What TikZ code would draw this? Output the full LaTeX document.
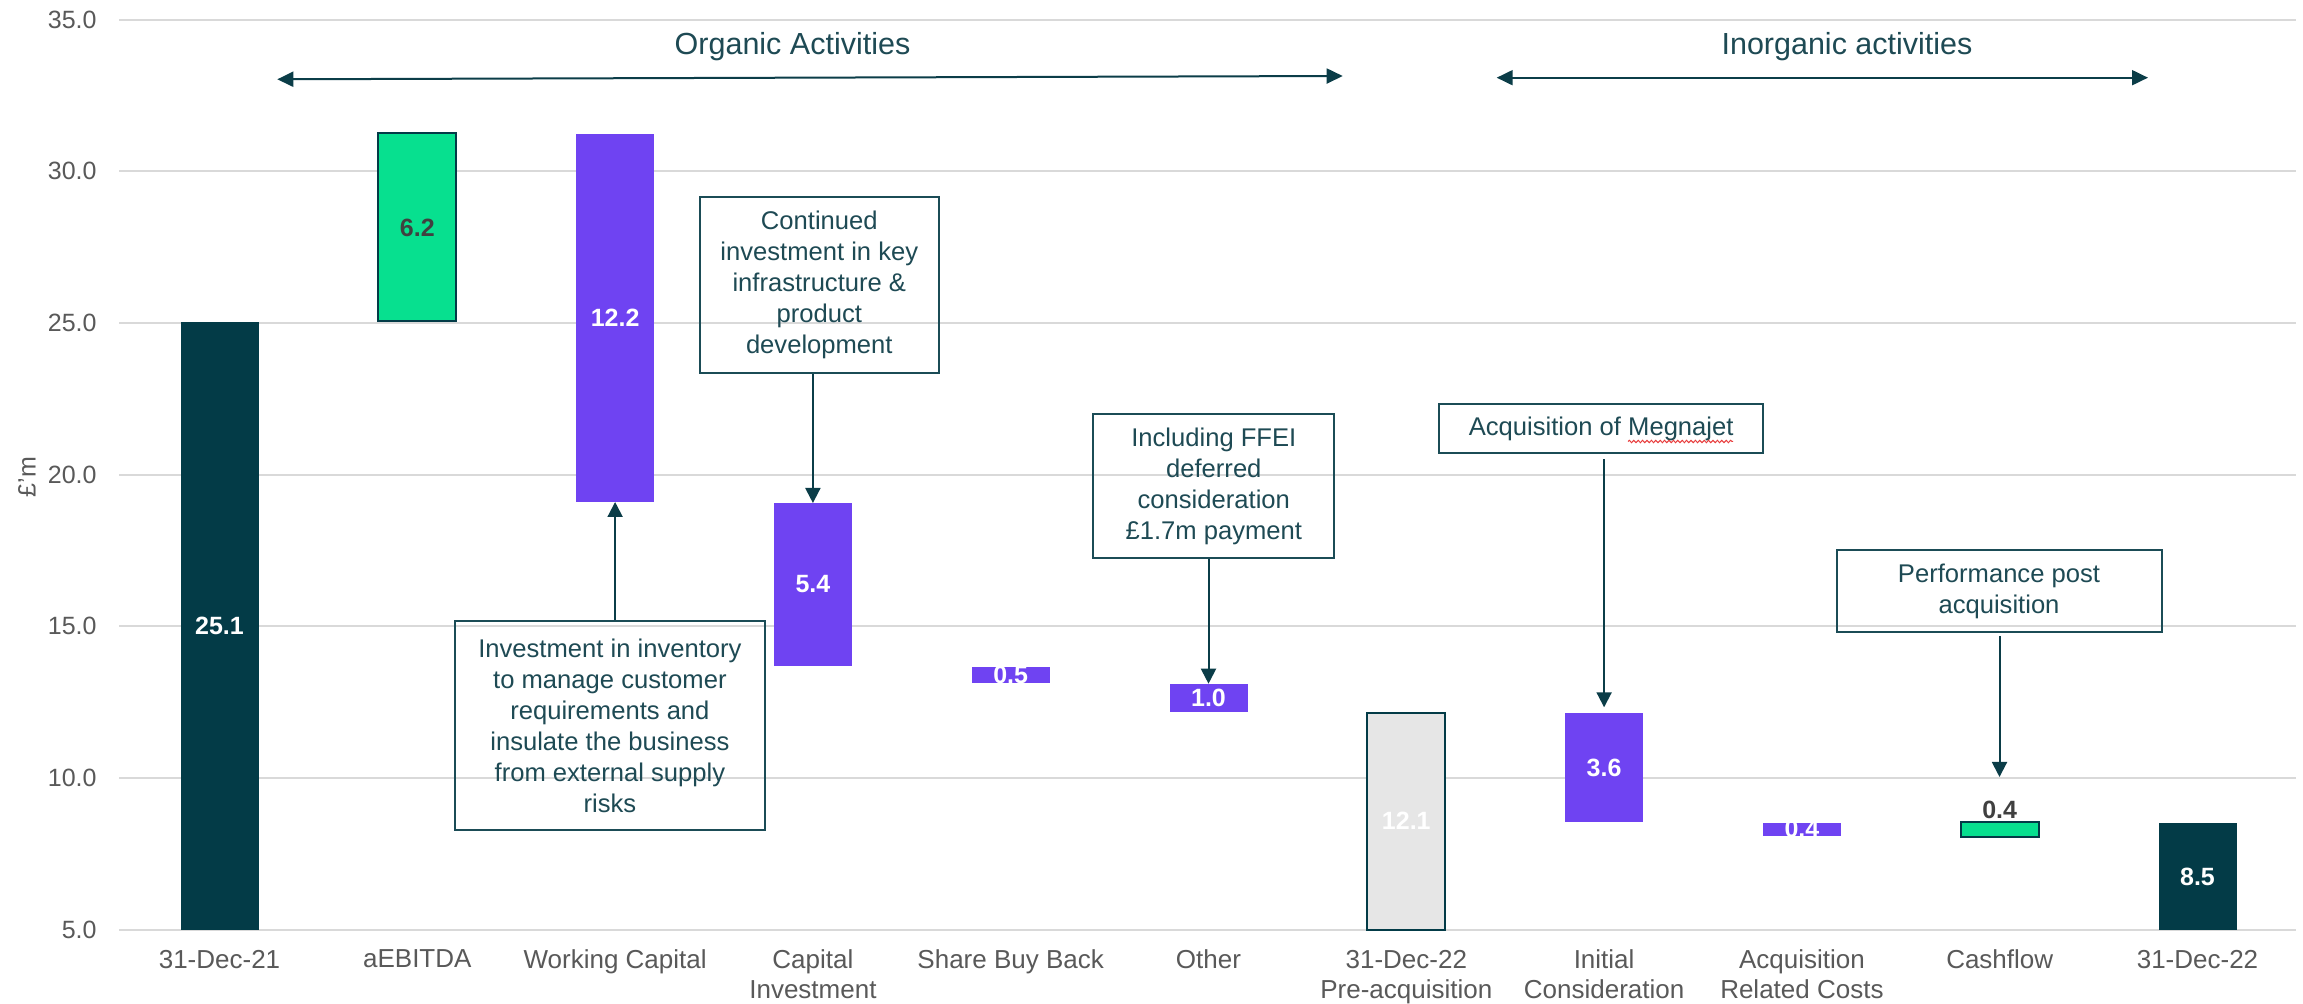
\documentclass[tikz,border=0pt]{standalone}
\usepackage{fontspec}
\setmainfont{Liberation Sans}
\usetikzlibrary{arrows.meta,decorations.pathmorphing}

\definecolor{darkteal}{RGB}{3,59,71}
\definecolor{wfgreen}{RGB}{7,224,143}
\definecolor{wfpurple}{RGB}{111,67,242}
\definecolor{subtotal}{RGB}{230,230,230}
\definecolor{gridgray}{RGB}{217,217,217}
\definecolor{axisgray}{RGB}{89,89,89}
\definecolor{boxteal}{RGB}{27,76,86}
\definecolor{textteal}{RGB}{30,74,84}
\definecolor{arrowteal}{RGB}{11,61,72}
\definecolor{valdark}{RGB}{64,64,64}
\definecolor{spellred}{RGB}{232,60,60}

% waterfall bar: name, centre x, top y, bottom y, style (coordinates in pixels, y downwards)
\newcommand{\wfbar}[5]{%
  \node[barshape,#5,minimum height={(#4-#3)*0.5pt}] (#1) at (#2,{(#3+#4)/2}) {};}

\begin{document}
\begin{tikzpicture}[x=0.5pt,y=-0.5pt,
  gridline/.style={draw=gridgray,line width=1pt},
  ticklbl/.style={anchor=east,inner sep=0pt,text=axisgray,font=\fontsize{12.5}{15}\selectfont},
  catlbl/.style={anchor=north,inner sep=0pt,align=center,text=axisgray,font=\fontsize{13}{15}\selectfont},
  barshape/.style={rectangle,inner sep=0pt,outer sep=0pt,minimum width=39pt},
  outlined/.style={draw=darkteal,line width=1pt},
  vallbl/.style={inner sep=0pt,text=white,font=\bfseries\fontsize{12.5}{15}\selectfont},
  callout/.style={draw=boxteal,line width=1pt,text=textteal,align=center,inner sep=0pt,
                  font=\fontsize{12.8}{15.5}\selectfont},
  callarrow/.style={draw=arrowteal,line width=1pt,-{Triangle[length=7.5pt,width=7.5pt]}},
  spanarrow/.style={draw=arrowteal,line width=1pt,
                    {Triangle[length=8pt,width=7.5pt]}-{Triangle[length=8pt,width=7.5pt]}},
  heading/.style={anchor=base,inner sep=0pt,text=textteal,font=\fontsize{15.25}{18}\selectfont}]

\useasboundingbox[fill=white] (0,0) rectangle (2303,1004);

% value axis: gridlines and tick labels
\foreach \v in {5,10,...,35} {
  \draw[gridline] (119,{929.5-(\v-5)*30.333}) -- (2296,{929.5-(\v-5)*30.333});
  \node[ticklbl] (tick\v) at (97,{929.5-(\v-5)*30.333}) {\v.0};
}
\node[ticklbl,anchor=center,rotate=90] (yunit) at (27,477) {£'m};

% bars
\wfbar{b1}{219.5}{322}{929.5}{fill=darkteal}
\wfbar{b2}{417.3}{133.5}{321.5}{fill=wfgreen,outlined}
\wfbar{b3}{615.1}{134.5}{502}{fill=wfpurple}
\wfbar{b4}{812.9}{503}{665.7}{fill=wfpurple}
\wfbar{b5}{1010.7}{667}{682.7}{fill=wfpurple}
\wfbar{b6}{1208.5}{683.7}{712}{fill=wfpurple}
\wfbar{b7}{1406.3}{712.7}{929.5}{fill=subtotal,outlined}
\wfbar{b8}{1604.1}{713.3}{821.7}{fill=wfpurple}
\wfbar{b9}{1801.9}{822.7}{836}{fill=wfpurple}
\wfbar{b10}{1999.7}{822}{836.7}{fill=wfgreen,outlined}
\wfbar{b11}{2197.5}{823.3}{929.5}{fill=darkteal}

% bar values
\node[vallbl] (v1) at (b1) {25.1};
\node[vallbl,text=valdark] (v2) at (b2) {6.2};
\node[vallbl] (v3) at (b3) {12.2};
\node[vallbl] (v4) at (b4) {5.4};
\node[vallbl] (v5) at (b5) {0.5};
\node[vallbl] (v6) at (b6) {1.0};
\node[vallbl] (v7) at (b7) {12.1};
\node[vallbl] (v8) at (b8) {3.6};
\node[vallbl] (v9) at (b9) {0.4};
\node[vallbl,text=valdark,anchor=south,yshift=1.5pt] (v10) at (b10.north) {0.4};
\node[vallbl] (v11) at (b11) {8.5};

% category labels
\node[catlbl] (c1) at (219.5,949.5) {31-Dec-21};
\node[catlbl] (c2) at (417.3,949.5) {aEBITDA};
\node[catlbl] (c3) at (615.1,949.5) {Working Capital};
\node[catlbl] (c4) at (812.9,949.5) {Capital\\Investment};
\node[catlbl] (c5) at (1010.7,949.5) {Share Buy Back};
\node[catlbl] (c6) at (1208.5,949.5) {Other};
\node[catlbl] (c7) at (1406.3,949.5) {31-Dec-22\\Pre-acquisition};
\node[catlbl] (c8) at (1604.1,949.5) {Initial\\Consideration};
\node[catlbl] (c9) at (1801.9,949.5) {Acquisition\\Related Costs};
\node[catlbl] (c10) at (1999.7,949.5) {Cashflow};
\node[catlbl] (c11) at (2197.5,949.5) {31-Dec-22};

% section headings with span arrows
\node[heading] (org) at (792.5,55) {Organic Activities};
\node[heading] (inorg) at (1847,55) {Inorganic activities};
\coordinate (orgL) at (277.3,79.3);
\coordinate (orgR) at (1342.7,76);
\coordinate (inoL) at (1496.7,77.7);
\coordinate (inoR) at (2148,77.7);
\draw[spanarrow] (orgL) -- (orgR);
\draw[spanarrow] (inoL) -- (inoR);

% callouts
\node[callout,minimum width=155.4pt,minimum height=104.5pt] (inv) at (609.9,725.5)
  {Investment in inventory\\to manage customer\\requirements and\\insulate the business\\from external supply\\risks};
\node[callout,minimum width=119.35pt,minimum height=88pt] (cont) at (819.3,284.7)
  {Continued\\investment in key\\infrastructure \&\\product\\development};
\node[callout,minimum width=120.5pt,minimum height=71.7pt] (ffei) at (1213.8,486)
  {Including FFEI\\deferred\\consideration\\£1.7m payment};
\node[callout,minimum width=162.15pt,minimum height=24.65pt] (meg) at (1601.2,428.7)
  {Acquisition of Megnajet};
\node[callout,minimum width=162.5pt,minimum height=40.75pt] (perf) at (1999,591.2)
  {Performance post\\acquisition};

% spell-check squiggle under the company name
\draw[spellred,line width=0.5pt,decorate,decoration={snake,amplitude=0.6pt,segment length=2.2pt}]
  (1628,441.5) -- (1733,441.5);

% callout pointers
\coordinate (perftip) at (1999.5,777);
\draw[callarrow] (inv.north -| b3.south) -- (b3.south);
\draw[callarrow] (cont.south -| b4.north) -- (b4.north);
\draw[callarrow] (ffei.south -| b6.north) -- (b6.north);
\draw[callarrow,shorten <=2.5pt,shorten >=3pt] (meg.south -| b8.north) -- (b8.north);
\draw[callarrow,shorten <=1.5pt] (perf.south -| perftip) -- (perftip);

\end{tikzpicture}
\end{document}
